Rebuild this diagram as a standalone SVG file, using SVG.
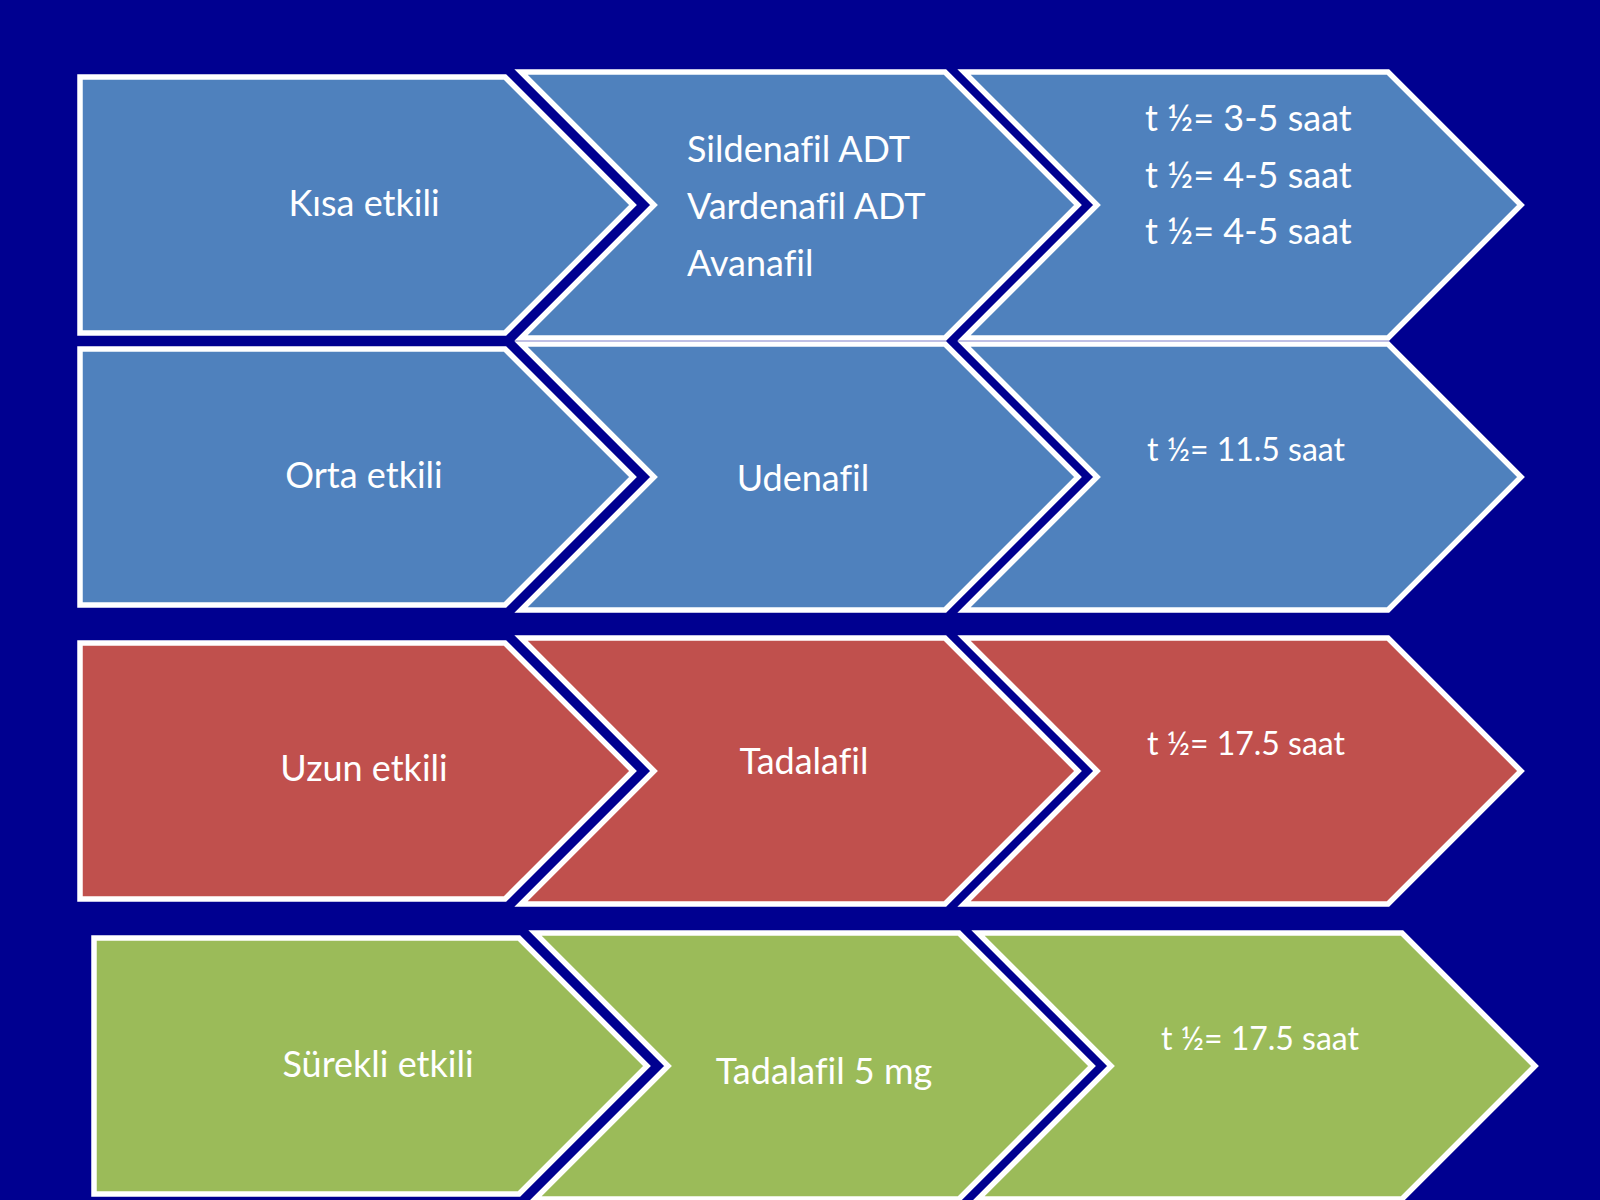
<svg xmlns="http://www.w3.org/2000/svg" width="1600" height="1200" viewBox="0 0 1600 1200">
  <style>
    .bg { fill: #000090; }
    .shape { stroke: #FFFFFF; stroke-width: 5.5; stroke-linejoin: miter; }
    .blue { fill: #4F81BD; }
    .red { fill: #C0504D; }
    .green { fill: #9BBB59; }
    .t { font-family: Lato, "Open Sans", "DejaVu Sans", sans-serif; fill: #FFFFFF; font-size: 36px; font-variant-ligatures: none; font-feature-settings: "liga" 0; }
    .c { text-anchor: middle; }
    .s { font-size: 32px; }
  </style>
  <defs>
    <path id="pA" d="M 80,-128 H 505 L 633,0 L 505,128 H 80 Z"/>
    <path id="pB" d="M 521,-133 H 945 L 1078,0 L 945,133 H 521 L 654,0 Z"/>
    <path id="pC" d="M 964,-133 H 1388 L 1521,0 L 1388,133 H 964 L 1097,0 Z"/>
  </defs>
  <rect class="bg" x="0" y="0" width="1600" height="1200"/>

  <g id="row1" transform="translate(0,205)">
    <g id="kisa"><use href="#pA" class="shape blue"/></g>
    <g id="kisa-drugs"><use href="#pB" class="shape blue"/></g>
    <g id="kisa-half"><use href="#pC" class="shape blue"/></g>
  </g>
  <g id="row2" transform="translate(0,477)">
    <g id="orta"><use href="#pA" class="shape blue"/></g>
    <g id="orta-drugs"><use href="#pB" class="shape blue"/></g>
    <g id="orta-half"><use href="#pC" class="shape blue"/></g>
  </g>
  <g id="row3" transform="translate(0,771)">
    <g id="uzun"><use href="#pA" class="shape red"/></g>
    <g id="uzun-drugs"><use href="#pB" class="shape red"/></g>
    <g id="uzun-half"><use href="#pC" class="shape red"/></g>
  </g>
  <g id="row4" transform="translate(14,1066)">
    <g id="surekli"><use href="#pA" class="shape green"/></g>
    <g id="surekli-drugs"><use href="#pB" class="shape green"/></g>
    <g id="surekli-half"><use href="#pC" class="shape green"/></g>
  </g>

  <g id="labels">
    <text class="t c" x="364" y="216">Kısa etkili</text>
    <text class="t" x="687" y="162">Sildenafil ADT</text>
    <text class="t" x="687" y="219">Vardenafil ADT</text>
    <text class="t" x="687" y="276">Avanafil</text>
    <text class="t" x="1145" y="131">t ½= 3-5 saat</text>
    <text class="t" x="1145" y="188">t ½= 4-5 saat</text>
    <text class="t" x="1145" y="244">t ½= 4-5 saat</text>

    <text class="t c" x="364" y="488">Orta etkili</text>
    <text class="t c" x="803" y="491">Udenafil</text>
    <text class="t s c" x="1246" y="461">t ½= 11.5 saat</text>

    <text class="t c" x="364" y="781">Uzun etkili</text>
    <text class="t c" x="804" y="774">Tadalafil</text>
    <text class="t s c" x="1246" y="755">t ½= 17.5 saat</text>

    <text class="t c" x="378" y="1077">Sürekli etkili</text>
    <text class="t c" x="824" y="1084">Tadalafil 5 mg</text>
    <text class="t s c" x="1260" y="1050">t ½= 17.5 saat</text>
  </g>
</svg>
